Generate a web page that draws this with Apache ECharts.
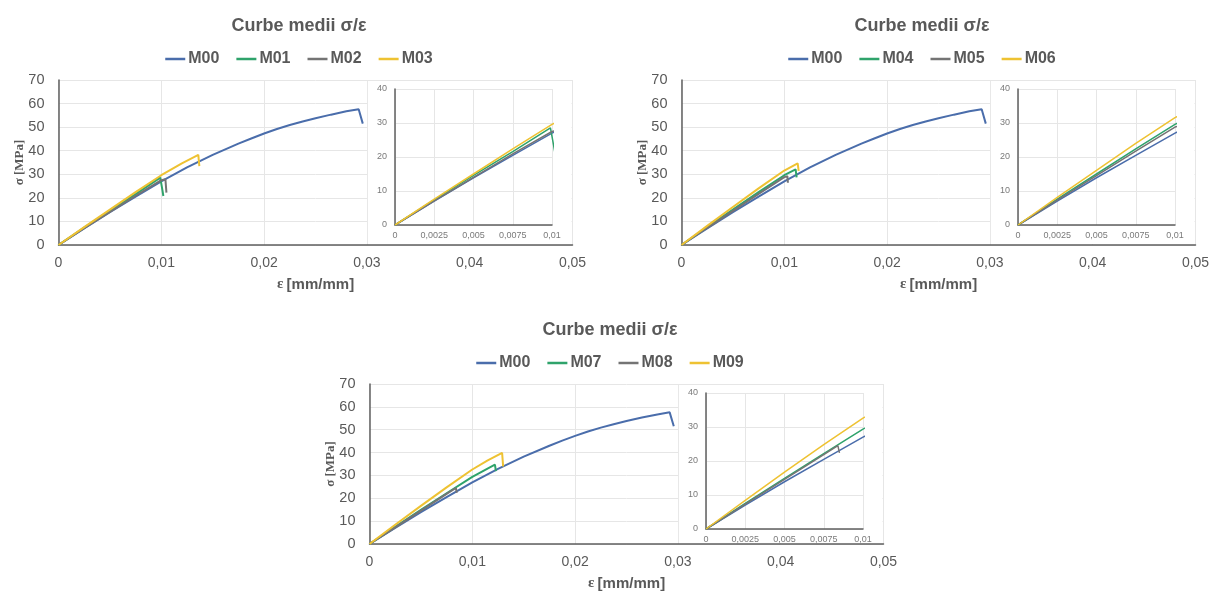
<!DOCTYPE html>
<html>
<head>
<meta charset="utf-8">
<script src="https://cdn.jsdelivr.net/npm/echarts@6/dist/echarts.min.js"></script>
<style>
  html, body { margin: 0; padding: 0; background: #fff; width: 1213px; height: 596px; overflow: hidden; }
  .panel { position: absolute; }
</style>
</head>
<body>
<div id="p1" class="panel" style="left:0px;top:0px;width:598px;height:300px"></div>
<div id="p2" class="panel" style="left:623px;top:0px;width:598px;height:300px"></div>
<div id="p3" class="panel" style="left:311px;top:304px;width:598px;height:292px"></div>
<script>
// Tick labels (Romanian decimal comma)
const strainTicksMain = ['0', '0,01', '0,02', '0,03', '0,04', '0,05'];
const stressTicksMain = ['0', '10', '20', '30', '40', '50', '60', '70'];
const strainTicksInset = ['0', '0,0025', '0,005', '0,0075', '0,01'];
const stressTicksInset = ['0', '10', '20', '30', '40'];

// Mean stress-strain curves: [strain mm/mm, stress MPa]
const M00 = [[0, 0], [0.0025, 7.0], [0.005, 13.9], [0.0075, 20.5], [0.01, 27.0], [0.0125, 32.9],
             [0.015, 38.2], [0.0175, 43.0], [0.01875, 45.2], [0.02, 47.3], [0.02125, 49.2],
             [0.0225, 50.9], [0.02375, 52.4], [0.025, 53.8], [0.0265, 55.3], [0.028, 56.7],
             [0.0292, 57.6], [0.0296, 51.5]];
const M01 = [[0, 0], [0.0025, 7.4], [0.005, 14.6], [0.0075, 21.6], [0.0099, 28.6], [0.0101, 23.5], [0.0102, 20.8]];
const M02 = [[0, 0], [0.0025, 7.1], [0.005, 14.0], [0.0075, 20.9], [0.01, 27.5], [0.0104, 27.9], [0.0105, 22.2]];
const M03 = [[0, 0], [0.0025, 7.6], [0.005, 15.0], [0.0075, 22.4], [0.01, 29.6], [0.012, 34.6], [0.0136, 38.2], [0.0137, 33.5]];
const M04 = [[0, 0], [0.0025, 7.6], [0.005, 15.0], [0.0075, 22.4], [0.01, 29.6], [0.0111, 32.1], [0.0112, 28.7]];
const M05 = [[0, 0], [0.0025, 7.3], [0.005, 14.5], [0.0075, 21.7], [0.01, 28.8], [0.0103, 29.2], [0.01035, 26.4]];
const M06 = [[0, 0], [0.0025, 8.1], [0.005, 16.1], [0.0075, 24.0], [0.01, 31.6], [0.0113, 34.6], [0.0114, 31.4]];
const M07 = [[0, 0], [0.0025, 7.5], [0.005, 14.9], [0.0075, 22.2], [0.01, 29.4], [0.0122, 34.7], [0.0123, 31.9]];
const M08 = [[0, 0], [0.0025, 7.3], [0.005, 14.6], [0.0075, 21.9], [0.0084, 24.5], [0.0085, 22.4]];
const M09 = [[0, 0], [0.0025, 8.4], [0.005, 16.7], [0.0075, 24.8], [0.01, 32.6], [0.0115, 36.6], [0.0129, 39.9], [0.0130, 33.9]];

const lineColors = ['#4a6dab', '#2fa36b', '#747474', '#eec232'];
const textGray = '#595959';

const panels = [
  { id: 'p1', names: ['M00', 'M01', 'M02', 'M03'], curves: [M00, M01, M02, M03] },
  { id: 'p2', names: ['M00', 'M04', 'M05', 'M06'], curves: [M00, M04, M05, M06] },
  { id: 'p3', names: ['M00', 'M07', 'M08', 'M09'], curves: [M00, M07, M08, M09] }
];

function buildOption(p) {
  const series = [];
  p.names.forEach((name, i) => {
    const base = {
      name: name, type: 'line', data: p.curves[i], symbol: 'none', showSymbol: false,
      itemStyle: { color: lineColors[i] }, clip: true, silent: true
    };
    series.push(Object.assign({}, base, { xAxisIndex: 0, yAxisIndex: 0, z: 2,
      lineStyle: { color: lineColors[i], width: 2 } }));
    series.push(Object.assign({}, base, { xAxisIndex: 1, yAxisIndex: 1, z: 6,
      lineStyle: { color: lineColors[i], width: 1.5 } }));
  });
  const axisLineDark = { show: true, onZero: false, lineStyle: { color: '#5f5f5f', width: 1.5 } };
  const grid = { show: true, lineStyle: { color: '#e6e6e6', width: 1 } };
  return {
    animation: false,
    title: {
      text: 'Curbe medii σ/ε', left: 'center', top: 12,
      textStyle: { fontFamily: 'Liberation Sans', fontWeight: 'bold', fontSize: 18, color: textGray }
    },
    legend: {
      data: p.names, left: 'center', top: 46, icon: 'rect', itemWidth: 20, itemHeight: 2.5, itemGap: 17,
      selectedMode: false,
      textStyle: { fontFamily: 'Liberation Sans', fontWeight: 'bold', fontSize: 16, color: textGray, padding: [0, 0, 0, -2] }
    },
    grid: [
      { left: 58.5, top: 80, width: 514, height: 165 },
      { left: 395, top: 89, width: 157, height: 136 }
    ],
    xAxis: [
      {
        type: 'value', gridIndex: 0, min: 0, max: 0.05, interval: 0.01, z: 0,
        axisLine: axisLineDark, axisTick: { show: false }, splitLine: grid,
        axisLabel: { formatter: (v, i) => strainTicksMain[i], color: textGray, fontSize: 14,
                     fontFamily: 'Liberation Sans', margin: 11 },
        name: '{e|ε} {u|[mm/mm]}', nameLocation: 'middle', nameGap: 32, nameMoveOverlap: false,
        nameTextStyle: { color: textGray, rich: {
          e: { fontFamily: 'Liberation Serif', fontSize: 15, fontWeight: 'bold', color: textGray },
          u: { fontFamily: 'Liberation Sans', fontSize: 15, fontWeight: 'bold', color: textGray } } }
      },
      {
        type: 'value', gridIndex: 1, min: 0, max: 0.01, interval: 0.0025, z: 5,
        axisLine: axisLineDark, axisTick: { show: false }, splitLine: grid,
        axisLabel: { formatter: (v, i) => strainTicksInset[i], color: '#7a7a7a', fontSize: 9,
                     fontFamily: 'Liberation Sans', margin: 6 }
      }
    ],
    yAxis: [
      {
        type: 'value', gridIndex: 0, min: 0, max: 70, interval: 10, z: 0,
        axisLine: axisLineDark, axisTick: { show: false }, splitLine: grid,
        axisLabel: { formatter: (v, i) => stressTicksMain[i], color: textGray, fontSize: 14.5,
                     fontFamily: 'Liberation Sans', margin: 14 },
        name: 'σ [MPa]', nameLocation: 'middle', nameGap: 32, nameMoveOverlap: false,
        nameTextStyle: { fontFamily: 'Liberation Serif', fontWeight: 'bold', fontSize: 13, color: textGray }
      },
      {
        type: 'value', gridIndex: 1, min: 0, max: 40, interval: 10, z: 5,
        axisLine: axisLineDark, axisTick: { show: false }, splitLine: grid,
        axisLabel: { formatter: (v, i) => stressTicksInset[i], color: '#7a7a7a', fontSize: 9,
                     fontFamily: 'Liberation Sans', margin: 8 }
      }
    ],
    series: series
  };
}

// White backdrop behind the zoomed-in inset, spanning the main plot from ε = 0.03 to 0.05
const insetBackdropFrom = [0.03, 70];
const insetBackdropTo = [0.05, 0];

panels.forEach(p => {
  const chart = echarts.init(document.getElementById(p.id), null, { renderer: 'canvas' });
  chart.setOption(buildOption(p));
  const a = chart.convertToPixel({ xAxisIndex: 0, yAxisIndex: 0 }, insetBackdropFrom);
  const b = chart.convertToPixel({ xAxisIndex: 0, yAxisIndex: 0 }, insetBackdropTo);
  chart.setOption({
    graphic: [{
      type: 'rect', z: 3, silent: true,
      shape: { x: a[0] + 1, y: a[1] + 1, width: b[0] - a[0] - 2, height: b[1] - a[1] - 2 },
      style: { fill: '#ffffff' }
    }]
  });
});
</script>
</body>
</html>
